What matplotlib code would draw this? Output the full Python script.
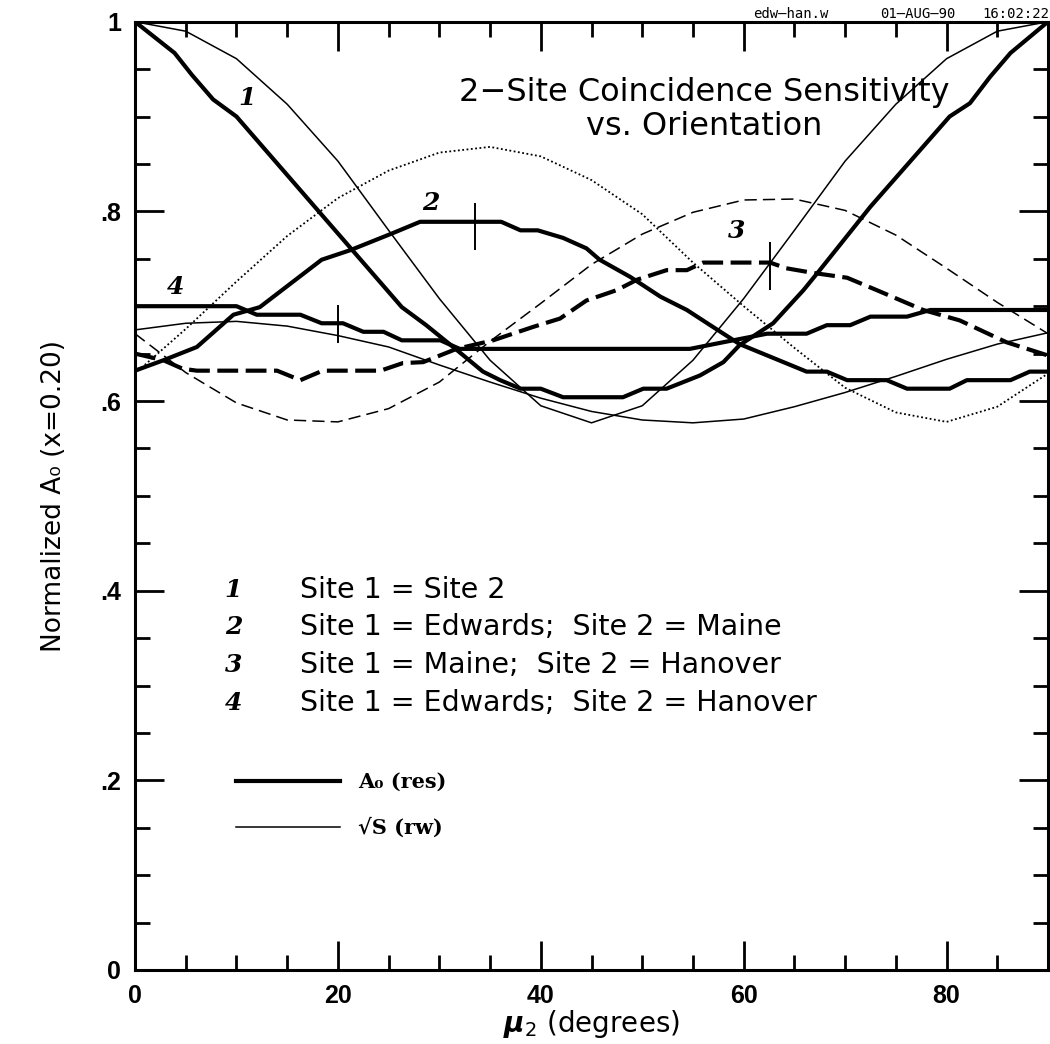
import matplotlib
matplotlib.use("Agg")
import matplotlib.pyplot as plt
from matplotlib.ticker import MultipleLocator, FuncFormatter

# ---- data

# thin curves (sqrt S, rw), sampled every 5 degrees
mu_thin = [0, 5, 10, 15, 20, 25, 30, 35, 40, 45, 50, 55, 60, 65, 70, 75, 80, 85, 90]
s_same = [1.000, 0.990, 0.961, 0.913, 0.853, 0.780, 0.708, 0.643, 0.595, 0.577,
          0.595, 0.643, 0.708, 0.780, 0.853, 0.913, 0.961, 0.990, 1.000]
s_edw_mai = [0.629, 0.676, 0.726, 0.774, 0.814, 0.843, 0.862, 0.868, 0.858, 0.833,
             0.797, 0.746, 0.700, 0.656, 0.614, 0.588, 0.578, 0.594, 0.629]
s_mai_han = [0.671, 0.630, 0.598, 0.580, 0.578, 0.592, 0.620, 0.663, 0.703, 0.744,
             0.776, 0.799, 0.812, 0.813, 0.801, 0.775, 0.740, 0.704, 0.671]
s_edw_han = [0.675, 0.682, 0.684, 0.679, 0.669, 0.657, 0.638, 0.620, 0.603, 0.589,
             0.580, 0.577, 0.581, 0.594, 0.609, 0.626, 0.644, 0.660, 0.672]

# thick curves (A0, res)
mu_a_same = [0, 3.9, 5.6, 7.7, 10.0, 26.3, 28.7, 31.7, 34.3, 36, 38, 40, 42.2, 48.1,
             50.1, 52.4, 55.7, 58, 59.6, 62.9, 65.9, 67.5, 72.5, 78, 80.3, 82.3, 84.3, 86.3, 90]
a_same = [1.0, 0.967, 0.944, 0.918, 0.900, 0.699, 0.680, 0.654, 0.631, 0.622, 0.613, 0.613,
          0.604, 0.604, 0.613, 0.613, 0.627, 0.641, 0.659, 0.682, 0.717, 0.738, 0.805, 0.872,
          0.900, 0.914, 0.942, 0.967, 1.0]

mu_a_edw_mai = [0, 2.8, 6.1, 9.7, 12.3, 18.4, 21.2, 25.4, 28.1, 36.1, 38, 39.7, 42.2, 44.5,
                45.8, 48.8, 51.8, 54.4, 56.7, 59.6, 66.2, 68.2, 70.2, 74.1, 76.1, 80.3, 82,
                86.3, 88.2, 90]
a_edw_mai = [0.632, 0.643, 0.657, 0.691, 0.699, 0.749, 0.759, 0.777, 0.789, 0.789, 0.780,
             0.780, 0.772, 0.761, 0.749, 0.731, 0.710, 0.696, 0.680, 0.660, 0.631, 0.631,
             0.622, 0.622, 0.613, 0.613, 0.622, 0.622, 0.631, 0.631]

mu_a_mai_han = [0, 2.8, 4.7, 6.1, 14, 16.3, 18.5, 24.2, 26.4, 28.4, 31.7, 35.3, 39.2, 41.9,
                44.5, 47.5, 49.5, 52.4, 54.4, 56, 62.6, 64.2, 66.9, 70.2, 73.1, 77.7, 81.3,
                85.9, 90]
a_mai_han = [0.650, 0.643, 0.634, 0.632, 0.632, 0.622, 0.632, 0.632, 0.640, 0.641, 0.655,
             0.664, 0.678, 0.687, 0.706, 0.717, 0.728, 0.738, 0.738, 0.746, 0.746, 0.740,
             0.735, 0.730, 0.717, 0.696, 0.685, 0.662, 0.648]

mu_a_edw_han = [0, 10, 12, 16.3, 18.4, 20.5, 22.5, 24.5, 26.3, 30.1, 32, 54.7, 58, 62.3,
                66.2, 68.2, 70.5, 72.5, 76.1, 78.4, 90]
a_edw_han = [0.700, 0.700, 0.691, 0.691, 0.682, 0.682, 0.673, 0.673, 0.664, 0.664, 0.655,
             0.655, 0.662, 0.671, 0.671, 0.680, 0.680, 0.689, 0.689, 0.696, 0.696]

# short vertical markers on curves 2, 3, 4
mark_mu = [33.5, 62.6, 20.0]
mark_lo = [0.759, 0.717, 0.661]
mark_hi = [0.809, 0.768, 0.701]

curve_ids = ["1", "2", "3", "4"]
curve_desc = ["Site 1 = Site 2",
              "Site 1 = Edwards;  Site 2 = Maine",
              "Site 1 = Maine;  Site 2 = Hanover",
              "Site 1 = Edwards;  Site 2 = Hanover"]

SANS = ["DejaVu Sans"]
TICKS = ["Liberation Sans", "DejaVu Sans"]

fig = plt.figure(figsize=(10.5, 10.44), dpi=100)
ax = fig.add_axes([0.1286, 0.0709, 0.8695, 0.9083])

ax.plot(mu_thin, s_same, color="black", lw=1.1, label="\u221aS (rw)")
ax.plot(mu_thin, s_edw_mai, color="black", lw=1.3, ls=(0, (1, 1.4)))
ax.plot(mu_thin, s_mai_han, color="black", lw=1.1, ls=(0, (8, 4)))
ax.plot(mu_thin, s_edw_han, color="black", lw=1.1)

ax.plot(mu_a_same, a_same, color="black", lw=3, label="A\u2080 (res)")
ax.plot(mu_a_edw_mai, a_edw_mai, color="black", lw=3)
ax.plot(mu_a_mai_han, a_mai_han, color="black", lw=3, ls=(0, (5, 1.8)))
ax.plot(mu_a_edw_han, a_edw_han, color="black", lw=3)

ax.vlines(mark_mu, mark_lo, mark_hi, color="black", lw=1.4)

# labels on the curves
lab_font = dict(family="DejaVu Serif", fontweight="bold", fontstyle="italic",
                fontsize=18, ha="center", va="center")
for cid, (lx, ly) in zip(curve_ids, [(11.0, 0.920), (29.2, 0.809), (59.3, 0.779), (4.0, 0.720)]):
    ax.text(lx, ly, cid, **lab_font)

# numbered list
for i, (cid, desc) in enumerate(zip(curve_ids, curve_desc)):
    yy = 0.401 - i * 0.0397
    ax.text(9.7, yy, cid, **lab_font)
    ax.text(16.3, yy, desc, family=SANS, fontsize=20.5, ha="left", va="center")

# line style legend
h, l = ax.get_legend_handles_labels()
leg = ax.legend(h[::-1], l[::-1], loc="upper left", bbox_to_anchor=(0.1106, 0.209),
                frameon=False, handlelength=5.0, handletextpad=0.85, labelspacing=1.25,
                borderpad=0, borderaxespad=0,
                prop=dict(family="DejaVu Serif", weight="bold", size=15))

# title
ax.text(56.1, 0.925, "2\u2212Site Coincidence Sensitivity", family=SANS, fontsize=23,
        ha="center", va="center")
ax.text(56.1, 0.890, "vs. Orientation", family=SANS, fontsize=23, ha="center", va="center")

# header stamp
for tx, s in zip([753, 880, 982], ["edw\u2013han.w", "01\u2013AUG\u201390", "16:02:22"]):
    fig.text(tx / 1050, 1 - 14 / 1044, s, family="DejaVu Sans Mono", fontsize=10,
             ha="left", va="center")

ax.set_xlim(0, 90)
ax.set_ylim(0, 1)
ax.xaxis.set_major_locator(MultipleLocator(20))
ax.xaxis.set_minor_locator(MultipleLocator(5))
ax.yaxis.set_major_locator(MultipleLocator(0.2))
ax.yaxis.set_minor_locator(MultipleLocator(0.05))


def yfmt(v, pos):
    if abs(v) < 1e-9:
        return "0"
    if abs(v - 1) < 1e-9:
        return "1"
    return ("%.1f" % v)[1:]


ax.yaxis.set_major_formatter(FuncFormatter(yfmt))
ax.tick_params(which="both", direction="in", top=True, right=True, width=2)
ax.tick_params(which="major", length=21, pad=10)
ax.tick_params(which="minor", length=11)
for t in ax.get_xticklabels() + ax.get_yticklabels():
    t.set_family(TICKS)
    t.set_fontweight("bold")
    t.set_fontsize(18)
for sp in ax.spines.values():
    sp.set_linewidth(2.2)

ax.set_xlabel("$\\boldsymbol{\\mu}_2$ (degrees)", family=SANS, fontsize=20, labelpad=0)
ax.set_ylabel("Normalized A\u2080 (x=0.20)", family=SANS, fontsize=19, labelpad=24)

fig.savefig("out.png", dpi=100)
